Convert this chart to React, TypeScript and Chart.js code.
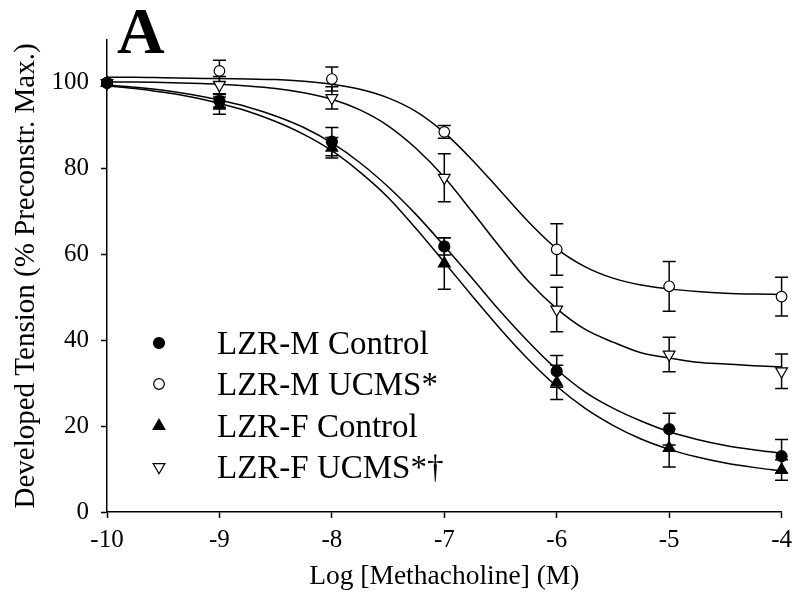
import React, { useEffect, useRef } from 'react';
import { Chart, registerables } from 'chart.js';

Chart.register(...registerables);

// ---- data ----
const logConc = [-10, -9, -8, -7, -6, -5, -4];

const mControl = [100, 95.8, 86.3, 61.9, 32.8, 19.3, 13.0];
const mControlErr = [0, 1.5, 3.3, 2.0, 3.7, 3.7, 3.9];
const mUcms = [100, 102.8, 100.9, 88.6, 61.2, 52.6, 50.2];
const mUcmsErr = [0, 2.5, 2.8, 1.5, 6.0, 5.8, 4.5];
const fControl = [100, 94.7, 84.9, 57.9, 30.2, 14.9, 9.8];
const fControlErr = [0, 2.0, 2.4, 6.0, 4.0, 4.4, 2.4];
const fUcms = [100, 99.5, 96.5, 77.9, 47.2, 36.7, 32.8];
const fUcmsErr = [0, 2.0, 2.6, 5.6, 5.2, 4.0, 4.0];

// fitted curves, every 0.25 log unit
const fitX = [
  -10, -9.75, -9.5, -9.25, -9, -8.75, -8.5, -8.25, -8, -7.75, -7.5, -7.25, -7,
  -6.75, -6.5, -6.25, -6, -5.75, -5.5, -5.25, -5, -4.75, -4.5, -4.25, -4,
];
const mControlFit = [
  99.5, 99.0, 98.3, 97.3, 96.0, 94.4, 92.3, 89.6, 86.0, 81.4, 75.8, 69.3, 62.0,
  54.4, 46.7, 39.6, 33.2, 28.0, 24.2, 21.2, 18.7, 16.9, 15.5, 14.5, 13.7,
];
const fControlFit = [
  99.3, 98.7, 97.8, 96.7, 95.2, 93.4, 91.0, 88.0, 84.2, 79.2, 73.3, 66.0, 58.2,
  50.3, 42.6, 35.5, 29.3, 24.2, 20.2, 17.0, 14.6, 12.8, 11.4, 10.4, 9.6,
];
const mUcmsFit = [
  101.3, 101.3, 101.2, 101.1, 101.0, 100.9, 100.8, 100.4, 99.7, 98.5, 96.5, 93.3, 88.4,
  82.0, 74.8, 67.6, 61.4, 57.2, 54.5, 52.9, 52.0, 51.4, 51.0, 50.8, 50.7,
];
const fUcmsFit = [
  100.2, 100.2, 100.1, 99.9, 99.7, 99.3, 98.7, 97.7, 96.2, 93.7, 90.0, 84.7, 78.0,
  69.9, 61.6, 53.7, 47.4, 42.6, 39.6, 37.1, 35.9, 34.9, 34.5, 34.1, 33.8,
];

const yTicks = [0, 20, 40, 60, 80, 100];

const legendLabels = ['LZR-M Control', 'LZR-M UCMS*', 'LZR-F Control', 'LZR-F UCMS*\u2020'];
const xTitle = 'Log [Methacholine] (M)';
const yTitle = 'Developed Tension (% Preconstr. Max.)';
const panelLabel = 'A';

const FONT = '"Liberation Serif", "Times New Roman", Times, serif';

type Marker = { style: 'circle' | 'triangle'; fill: string; rot: number; r: number };
const markers: Marker[] = [
  { style: 'circle', fill: '#000', rot: 0, r: 5.5 },
  { style: 'circle', fill: '#fff', rot: 0, r: 5.3 },
  { style: 'triangle', fill: '#000', rot: 0, r: 6.8 },
  { style: 'triangle', fill: '#fff', rot: 180, r: 6.8 },
];

const series = [
  { values: mControl, errs: mControlErr },
  { values: mUcms, errs: mUcmsErr },
  { values: fControl, errs: fControlErr },
  { values: fUcms, errs: fUcmsErr },
];

function drawMarker(ctx: CanvasRenderingContext2D, m: Marker, x: number, y: number) {
  ctx.save();
  ctx.beginPath();
  if (m.style === 'circle') {
    ctx.arc(x, y, m.r, 0, Math.PI * 2);
  } else {
    let rad = (m.rot * Math.PI) / 180;
    ctx.moveTo(x + Math.sin(rad) * m.r, y - Math.cos(rad) * m.r);
    rad += (2 * Math.PI) / 3;
    ctx.lineTo(x + Math.sin(rad) * m.r, y - Math.cos(rad) * m.r);
    rad += (2 * Math.PI) / 3;
    ctx.lineTo(x + Math.sin(rad) * m.r, y - Math.cos(rad) * m.r);
    ctx.closePath();
  }
  ctx.fillStyle = m.fill;
  ctx.fill();
  ctx.lineWidth = 1.2;
  ctx.strokeStyle = '#000';
  ctx.stroke();
  ctx.restore();
}

const errorBarPlugin = {
  id: 'errorBars',
  beforeDatasetsDraw(chart: any) {
    const { ctx, scales } = chart;
    const xs = scales.x;
    const ys = scales.y;
    ctx.save();
    ctx.strokeStyle = '#000';
    ctx.lineWidth = 1.5;
    series.forEach((s) => {
      s.values.forEach((v, i) => {
        const e = s.errs[i];
        if (!e) return;
        const px = xs.getPixelForValue(logConc[i]);
        const yt = ys.getPixelForValue(v + e);
        const yb = ys.getPixelForValue(v - e);
        ctx.beginPath();
        ctx.moveTo(px, yt);
        ctx.lineTo(px, yb);
        ctx.moveTo(px - 6.5, yt);
        ctx.lineTo(px + 6.5, yt);
        ctx.moveTo(px - 6.5, yb);
        ctx.lineTo(px + 6.5, yb);
        ctx.stroke();
      });
    });
    ctx.restore();
  },
};

const annotationPlugin = {
  id: 'annotations',
  afterDraw(chart: any) {
    const { ctx } = chart;
    ctx.save();
    // panel letter
    ctx.fillStyle = '#000';
    ctx.font = `bold 66px ${FONT}`;
    ctx.textAlign = 'left';
    ctx.textBaseline = 'alphabetic';
    ctx.fillText(panelLabel, 117, 53);
    // legend
    const rows = [343, 384, 426, 467];
    ctx.font = `33px ${FONT}`;
    legendLabels.forEach((label, i) => {
      drawMarker(ctx, markers[i], 159, rows[i]);
      ctx.fillStyle = '#000';
      ctx.fillText(label, 217, rows[i] + 11);
    });
    ctx.restore();
  },
};

export default function App() {
  const ref = useRef<HTMLCanvasElement | null>(null);

  useEffect(() => {
    if (!ref.current) return;
    const curveDs = (vals: number[]) => ({
      data: fitX.map((x, i) => ({ x, y: vals[i] })),
      borderColor: '#000',
      borderWidth: 1.5,
      pointRadius: 0,
      fill: false,
      cubicInterpolationMode: 'monotone' as const,
      showLine: true,
      clip: false as any,
      order: 2,
    });
    const pointDs = (vals: number[], m: Marker) => ({
      data: logConc.map((x, i) => ({ x, y: vals[i] })),
      showLine: false,
      pointStyle: m.style,
      pointRotation: m.rot,
      pointRadius: m.r,
      pointHoverRadius: m.r,
      pointBackgroundColor: m.fill,
      pointBorderColor: '#000',
      pointBorderWidth: 1.2,
      borderColor: '#000',
      clip: false as any,
      order: 1,
    });

    const chart = new Chart(ref.current, {
      type: 'line',
      data: {
        datasets: [
          pointDs(mControl, markers[0]),
          pointDs(mUcms, markers[1]),
          pointDs(fControl, markers[2]),
          pointDs(fUcms, markers[3]),
          curveDs(mControlFit),
          curveDs(mUcmsFit),
          curveDs(fControlFit),
          curveDs(fUcmsFit),
        ] as any,
      },
      options: {
        animation: false,
        responsive: false,
        devicePixelRatio: 1,
        layout: { padding: { top: 40, right: 13, left: 0, bottom: 0 } },
        plugins: { legend: { display: false }, tooltip: { enabled: false } },
        scales: {
          x: {
            type: 'linear',
            min: -10,
            max: -4,
            ticks: {
              stepSize: 1,
              color: '#000',
              font: { family: FONT, size: 25 },
              padding: 7,
              maxRotation: 0,
              autoSkip: false,
              callback: (v: any) => String(v),
            },
            grid: {
              display: true,
              drawOnChartArea: false,
              drawTicks: true,
              tickLength: 6,
              tickColor: '#000',
              tickWidth: 1.5,
            },
            border: { display: true, color: '#000', width: 1.5 },
            title: {
              display: true,
              text: xTitle,
              color: '#000',
              font: { family: FONT, size: 27.5 },
              padding: { top: 0, bottom: 9 },
            },
            afterFit: (s: any) => {
              s.height = 90;
            },
          },
          y: {
            type: 'linear',
            min: 0,
            max: 110,
            afterBuildTicks: (s: any) => {
              s.ticks = yTicks.map((value) => ({ value }));
            },
            ticks: {
              color: '#000',
              font: { family: FONT, size: 25 },
              padding: 12,
              callback: (v: any) => String(v),
            },
            grid: {
              display: true,
              drawOnChartArea: false,
              drawTicks: true,
              tickLength: 6,
              tickColor: '#000',
              tickWidth: 1.5,
            },
            border: { display: true, color: '#000', width: 1.5 },
            title: {
              display: true,
              text: yTitle,
              color: '#000',
              font: { family: FONT, size: 29 },
              padding: { top: 9, bottom: 0 },
            },
            afterFit: (s: any) => {
              s.width = 107;
            },
          },
        },
      } as any,
      plugins: [errorBarPlugin, annotationPlugin],
    });
    return () => chart.destroy();
  }, []);

  return (
    <div style={{ position: 'absolute', left: 0, top: 0, width: 799, height: 602, background: '#fff' }}>
      <canvas ref={ref} width={799} height={602} style={{ display: 'block' }} />
    </div>
  );
}
